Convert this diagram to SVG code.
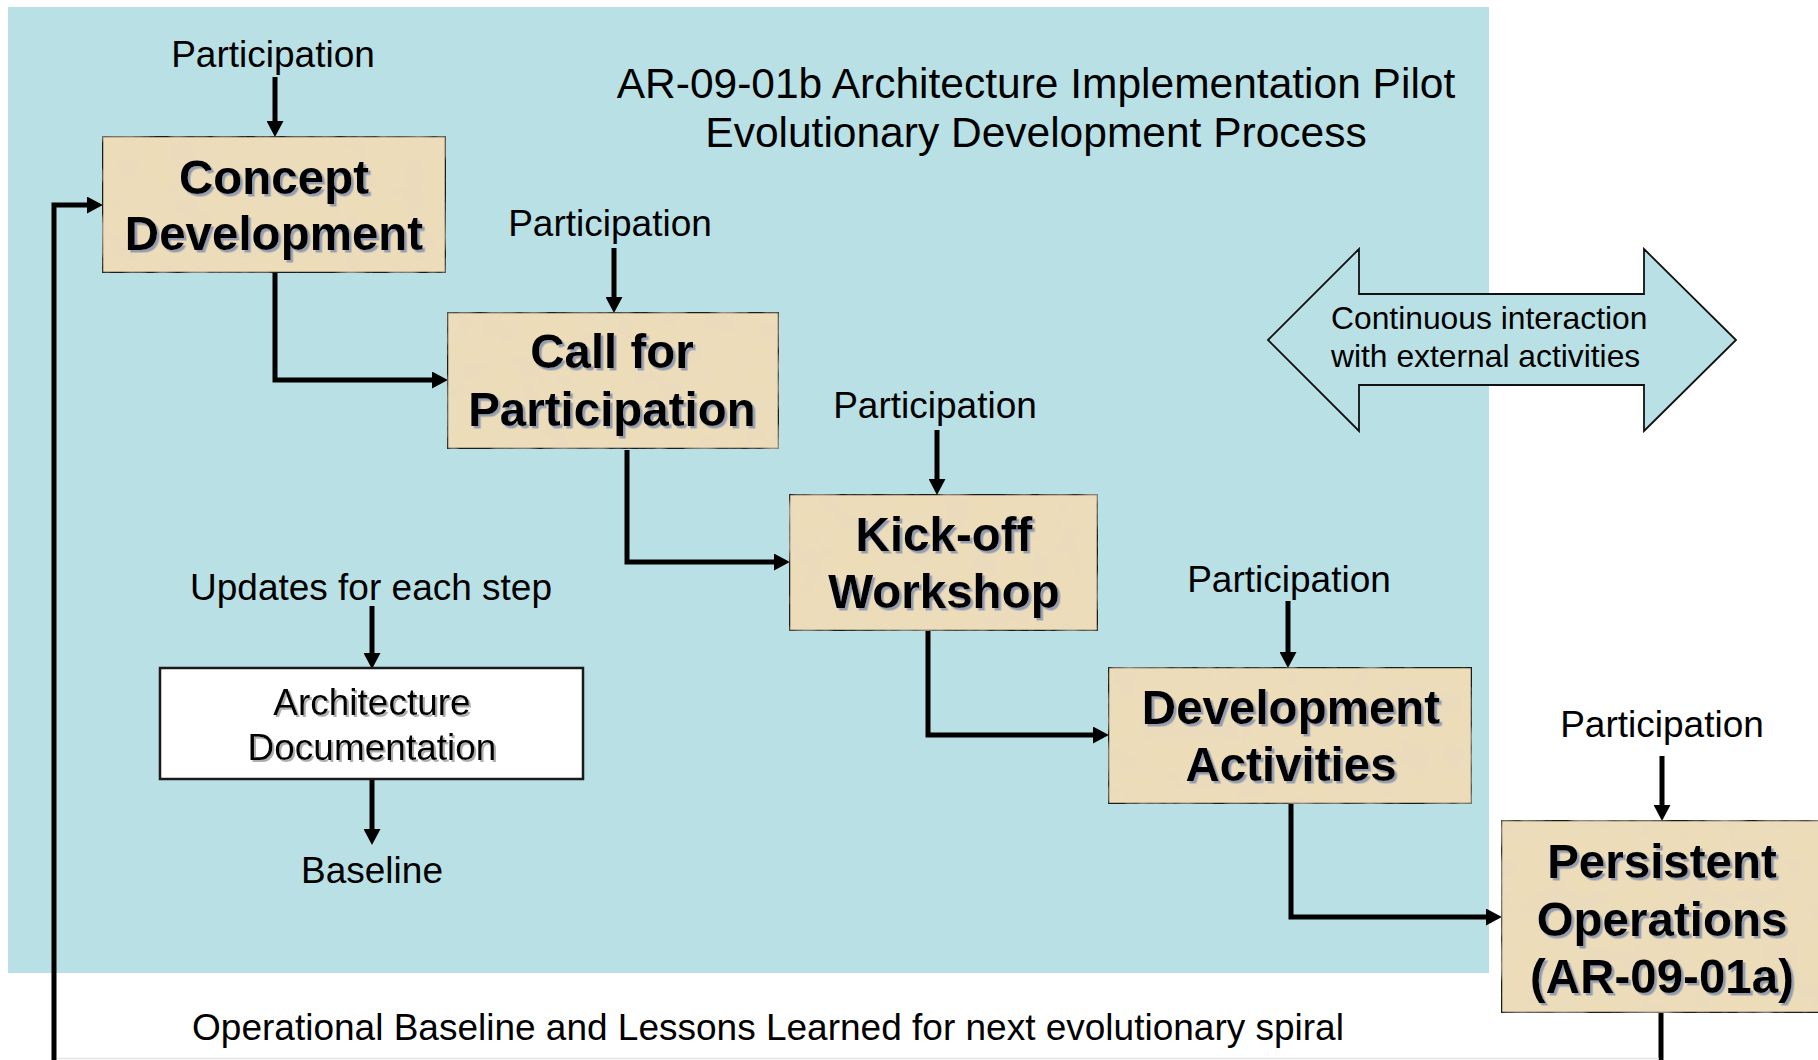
<svg xmlns="http://www.w3.org/2000/svg" width="1818" height="1060" viewBox="0 0 1818 1060">
<defs>
<style>
.lbl{font-family:"Liberation Sans",Arial,sans-serif;font-size:37px;fill:#000;text-anchor:middle}
.ttl{font-family:"Liberation Sans",Arial,sans-serif;font-size:42.5px;fill:#000;text-anchor:middle}
.bold{font-family:"Liberation Sans",Arial,sans-serif;font-size:47.5px;font-weight:bold;fill:#000;text-anchor:middle;filter:url(#shadow)}
.doc{font-family:"Liberation Sans",Arial,sans-serif;font-size:37px;fill:#000;text-anchor:middle;filter:url(#shadow2)}
.small{font-family:"Liberation Sans",Arial,sans-serif;font-size:31.8px;fill:#000}
.box{fill:#ecdcb8;stroke:#1a1a1a;stroke-width:2.5;filter:url(#paper)}
.wbox{fill:#fff;stroke:#1a1a1a;stroke-width:2.5}
.con{fill:none;stroke:#000;stroke-width:5;marker-end:url(#ah)}
</style>
<marker id="ah" markerUnits="userSpaceOnUse" markerWidth="17" markerHeight="17" viewBox="0 0 16 16" refX="1" refY="8" orient="auto">
<path d="M0,0 L15,8 L0,16 z" fill="#000"/>
</marker>
<filter id="paper" x="0" y="0" width="100%" height="100%">
<feTurbulence type="fractalNoise" baseFrequency="0.035" numOctaves="3" seed="5" result="noise"/>
<feColorMatrix in="noise" type="matrix" values="0 0 0 0 0.80  0 0 0 0 0.70  0 0 0 0 0.55  1.0 0 0 0 -0.38" result="spots"/>
<feComposite in="spots" in2="SourceGraphic" operator="atop"/>
</filter>
<filter id="shadow" x="-10%" y="-20%" width="120%" height="140%">
<feDropShadow dx="2.5" dy="2.5" stdDeviation="0.6" flood-color="#8a96ad" flood-opacity="0.9"/>
</filter>
<filter id="shadow2" x="-10%" y="-20%" width="120%" height="140%">
<feDropShadow dx="2" dy="2" stdDeviation="0.6" flood-color="#9a9a9a" flood-opacity="0.8"/>
</filter>
</defs>
<rect x="0" y="0" width="1818" height="1060" fill="#fff"/>
<rect id="background" x="8" y="7" width="1481" height="966" fill="#b9e0e4"/>
<g id="title">
<text class="ttl" x="1036" y="98">AR-09-01b Architecture Implementation Pilot</text>
<text class="ttl" x="1036" y="147">Evolutionary Development Process</text>
</g>
<g id="connectors">
<path class="con" d="M275,77 V122"/>
<path class="con" d="M614,248 V298"/>
<path class="con" d="M937,430 V480"/>
<path class="con" d="M1288,601 V653"/>
<path class="con" d="M1662,756 V806"/>
<path class="con" d="M372,606 V654"/>
<path class="con" d="M372,779 V830"/>
<path class="con" d="M275,273 V380 H433"/>
<path class="con" d="M627,450 V562 H775"/>
<path class="con" d="M928,631 V735 H1094"/>
<path class="con" d="M1291,804 V917 H1487"/>
<path class="con" d="M1661,1013 V1064 H54 V205 H88"/>
<line x1="57" y1="1058.5" x2="1659" y2="1058.5" stroke="#e4e4e4" stroke-width="1.5"/>
</g>
<g id="concept-development">
<rect class="box" x="102" y="136" width="344" height="137"/>
<text class="bold" x="274" y="194">Concept</text>
<text class="bold" x="274" y="250">Development</text>
</g>
<g id="call-for-participation">
<rect class="box" x="447" y="312" width="332" height="137"/>
<text class="bold" x="612" y="368">Call for</text>
<text class="bold" x="612" y="426">Participation</text>
</g>
<g id="kickoff-workshop">
<rect class="box" x="789" y="494" width="309" height="137"/>
<text class="bold" x="944" y="551">Kick-off</text>
<text class="bold" x="944" y="608">Workshop</text>
</g>
<g id="development-activities">
<rect class="box" x="1108" y="667" width="364" height="137"/>
<text class="bold" x="1291" y="724">Development</text>
<text class="bold" x="1291" y="781">Activities</text>
</g>
<g id="persistent-operations">
<rect class="box" x="1501" y="820" width="330" height="193"/>
<text class="bold" x="1662" y="878">Persistent</text>
<text class="bold" x="1662" y="936">Operations</text>
<text class="bold" x="1662" y="993">(AR-09-01a)</text>
</g>
<g id="architecture-documentation">
<rect class="wbox" x="160" y="668" width="423" height="111"/>
<text class="doc" x="372" y="715">Architecture</text>
<text class="doc" x="372" y="760">Documentation</text>
</g>
<g id="external-interaction">
<polygon points="1268,340 1359,249 1359,294 1644,294 1644,249 1736,340 1644,431 1644,385 1359,385 1359,431" fill="#b9e0e4" stroke="#111" stroke-width="1.8"/>
<text class="small" x="1331" y="329">Continuous interaction</text>
<text class="small" x="1331" y="367">with external activities</text>
</g>
<g id="labels">
<text class="lbl" x="273" y="67">Participation</text>
<text class="lbl" x="610" y="236">Participation</text>
<text class="lbl" x="935" y="418">Participation</text>
<text class="lbl" x="1289" y="592">Participation</text>
<text class="lbl" x="1662" y="737">Participation</text>
<text class="lbl" x="371" y="600">Updates for each step</text>
<text class="lbl" x="372" y="883">Baseline</text>
<text class="lbl" x="768" y="1040">Operational Baseline and Lessons Learned for next evolutionary spiral</text>
</g>
</svg>
